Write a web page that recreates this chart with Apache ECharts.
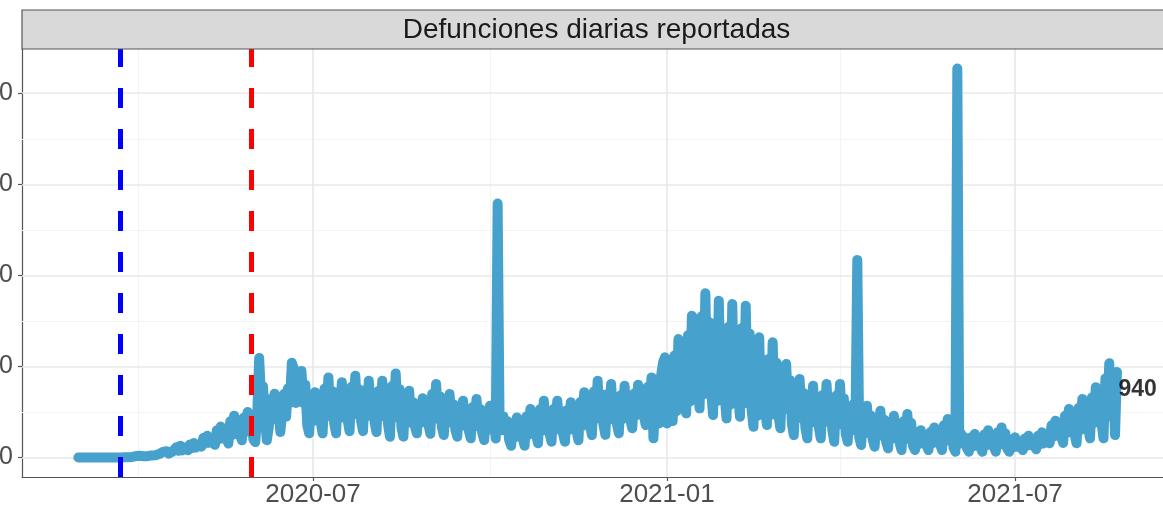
<!DOCTYPE html>
<html><head><meta charset="utf-8">
<script src="https://cdn.jsdelivr.net/npm/echarts@6/dist/echarts.min.js"></script>
<style>html,body{margin:0;padding:0;background:#fff}#c{width:1163px;height:510px}</style>
</head><body><div id="c"></div>
<script>
// ---- data (daily reported deaths, one row per week Sun..Sat, from 2020-03-01) ----
const startDate = '2020-03-01';
const deaths = [
0,0,0,0,0,0,0,
0,0,0,0,0,0,0,
0,0,0,1,1,2,1,
1,1,2,3,5,4,4,
7,4,16,9,19,9,15,
20,15,35,23,40,24,34,
38,30,62,42,70,44,60,
66,50,114,74,130,78,110,
96,80,144,104,160,108,140,
144,120,216,156,240,162,210,
180,140,300,200,340,210,290,
216,155,399,247,460,262,384,
252,190,438,283,500,299,423,
200,170,470,1092,650,780,420,
190,330,640,420,700,450,600,
280,300,700,450,760,600,1040,
980,600,930,650,950,600,800,
356,266,626,401,716,424,604,
389,266,757,450,880,481,727,
378,266,714,434,826,462,686,
412,290,776,472,898,503,746,
401,290,732,456,843,484,705,
393,280,730,449,843,477,702,
368,229,785,438,924,472,750,
330,229,632,380,733,405,607,
343,266,573,381,650,400,554,
369,260,698,424,807,451,670,
337,247,607,382,697,405,585,
308,229,545,348,624,367,525,
297,211,556,340,642,362,534,
267,192,494,305,569,324,475,
210,2789,400,300,450,310,400,
192,130,379,223,441,239,363,
211,130,452,251,533,271,432,
250,156,530,296,624,320,507,
264,174,534,309,624,332,512,
260,174,520,304,606,325,498,
295,190,611,348,716,374,585,
366,247,724,426,843,456,694,
361,250,696,417,807,445,668,
370,266,684,423,788,449,658,
417,321,704,465,800,489,680,
462,357,775,514,880,211,650,
480,375,900,1045,1100,375,900,
580,400,1121,508,1301,535,1076,
699,485,1343,614,1557,646,1289,
793,540,1550,692,1803,729,1487,
718,467,1471,618,1722,655,1408,
681,430,1434,581,1685,618,1371,
692,448,1423,594,1667,631,1362,
534,338,1124,456,1320,485,1075,
539,357,1083,466,1265,493,1038,
462,321,885,533,1026,568,850,
370,247,739,432,862,462,708,
327,211,673,384,789,413,645,
330,211,688,390,807,420,658,
301,174,680,364,807,396,649,
257,174,504,298,587,319,2170,
223,137,483,267,569,288,461,
198,119,435,238,514,257,415,
173,101,387,208,459,226,370,
161,82,399,201,478,221,379,
126,82,256,147,300,158,246,
132,82,280,156,330,169,268,
150,82,355,184,423,201,338,
110,64,4272,150,260,160,220,
103,64,219,122,258,132,210,
111,64,253,135,300,147,241,
117,64,278,144,331,157,264,
96,64,190,111,222,119,183,
114,82,208,129,240,137,201,
127,90,240,146,277,155,230,
206,156,354,230,404,243,342,
234,160,458,272,532,290,439,
253,156,545,302,642,326,521,
323,211,659,379,771,407,631,
376,211,869,458,1034,499,828,
247,940
];
const yTicks = [0, 1000, 2000, 3000, 4000];
const yMinor = [500, 1500, 2500, 3500];
const xTicks = ['2020-07-01', '2021-01-01', '2021-07-01'];
const xMinor = ['2020-04-01', '2020-10-01', '2021-04-01'];
const vlineBlue = '2020-03-23';
const vlineRed = '2020-05-30';
const stripTitle = 'Defunciones diarias reportadas';

// ---- helpers ----
const DAY = 864e5;
function toTs(s) { const p = s.split('-').map(Number); return Date.UTC(p[0], p[1] - 1, p[2]); }
function ym(t) { const d = new Date(t); return d.getUTCFullYear() + '-' + String(d.getUTCMonth() + 1).padStart(2, '0'); }
const t0 = toTs(startDate);
const dayTs = deaths.map((_, i) => t0 + i * DAY);
const seriesData = dayTs.map((t, i) => [t, deaths[i]]);
const lastIdx = deaths.length - 1;

const FONT = '"Liberation Sans", Arial, Helvetica, sans-serif';
const chart = echarts.init(document.getElementById('c'), null, { renderer: 'canvas' });

const gridLines = []
  .concat(yMinor.map(v => ({ yAxis: v, lineStyle: { color: '#f3f3f3', width: 1, type: 'solid' } })))
  .concat(xMinor.map(v => ({ xAxis: toTs(v), lineStyle: { color: '#f3f3f3', width: 1, type: 'solid' } })))
  .concat(yTicks.map(v => ({ yAxis: v, lineStyle: { color: '#e8e8e8', width: 1.6, type: 'solid' } })))
  .concat(xTicks.map(v => ({ xAxis: toTs(v), lineStyle: { color: '#e8e8e8', width: 1.6, type: 'solid' } })));

chart.setOption({
  animation: false,
  backgroundColor: '#ffffff',
  textStyle: { fontFamily: FONT },
  grid: { left: 22, top: 49, width: 1149, height: 428, containLabel: false, outerBoundsMode: 'none' },
  xAxis: {
    type: 'value',
    min: t0 - 29.3 * DAY,
    max: t0 + 568.1 * DAY,
    scale: true,
    splitLine: { show: false },
    axisLine: { show: true, onZero: false, lineStyle: { color: '#555555', width: 1.2 } },
    axisTick: { show: true, length: 4, customValues: xTicks.map(toTs), lineStyle: { color: '#555555', width: 1.2 } },
    axisLabel: {
      show: true, customValues: xTicks.map(toTs), margin: 5,
      color: '#4d4d4d', fontSize: 26, fontFamily: FONT, hideOverlap: false,
      formatter: v => ym(v)
    }
  },
  yAxis: {
    type: 'value',
    min: -213.6,
    max: 4485.6,
    splitLine: { show: false },
    axisLine: { show: true, onZero: false, lineStyle: { color: '#555555', width: 1.2 } },
    axisTick: { show: true, length: 4, customValues: yTicks, lineStyle: { color: '#555555', width: 1.2 } },
    axisLabel: { show: true, customValues: yTicks, margin: 9, color: '#4d4d4d', fontSize: 25, fontFamily: FONT }
  },
  series: [
    {
      name: 'grid', type: 'line', z: 1, silent: true,
      data: [[t0, 0]], symbol: 'none', lineStyle: { width: 0, opacity: 0 },
      markLine: { z: 1, silent: true, symbol: ['none', 'none'], label: { show: false }, animation: false, data: gridLines }
    },
    {
      name: 'Defunciones', type: 'line', z: 3,
      data: seriesData, showSymbol: false, symbol: 'none',
      lineStyle: { color: '#46a2cc', width: 10, cap: 'round', join: 'round' }
    },
    {
      name: 'ultimo', type: 'scatter', z: 6,
      data: [[dayTs[lastIdx], deaths[lastIdx]]],
      symbolSize: 1, itemStyle: { color: 'rgba(0,0,0,0)' },
      label: {
        show: true, position: 'right', distance: 1, offset: [0, 18],
        formatter: p => String(p.value[1]),
        fontWeight: 'bold', fontSize: 23, color: '#000000', fontFamily: FONT
      },
      markLine: {
        z: 5, silent: true, symbol: ['none', 'none'], label: { show: false }, animation: false,
        lineStyle: { width: 5, type: [20, 21] },
        data: [
          { xAxis: toTs(vlineBlue), lineStyle: { color: '#0000ff', width: 5, type: [20, 21] } },
          { xAxis: toTs(vlineRed), lineStyle: { color: '#ff0000', width: 5, type: [20, 21] } }
        ]
      }
    }
  ],
  graphic: [
    {
      type: 'rect', z: 100, silent: true,
      shape: { x: 22, y: 10, width: 1149, height: 39 },
      style: { fill: '#d9d9d9', stroke: '#555555', lineWidth: 1.2 }
    },
    {
      type: 'text', z: 101, silent: true,
      x: 22 + 1149 / 2, y: 30,
      style: { text: stripTitle, fill: '#1a1a1a', font: '28px ' + FONT, textAlign: 'center', textVerticalAlign: 'middle' }
    }
  ]
});
</script>
</body></html>
